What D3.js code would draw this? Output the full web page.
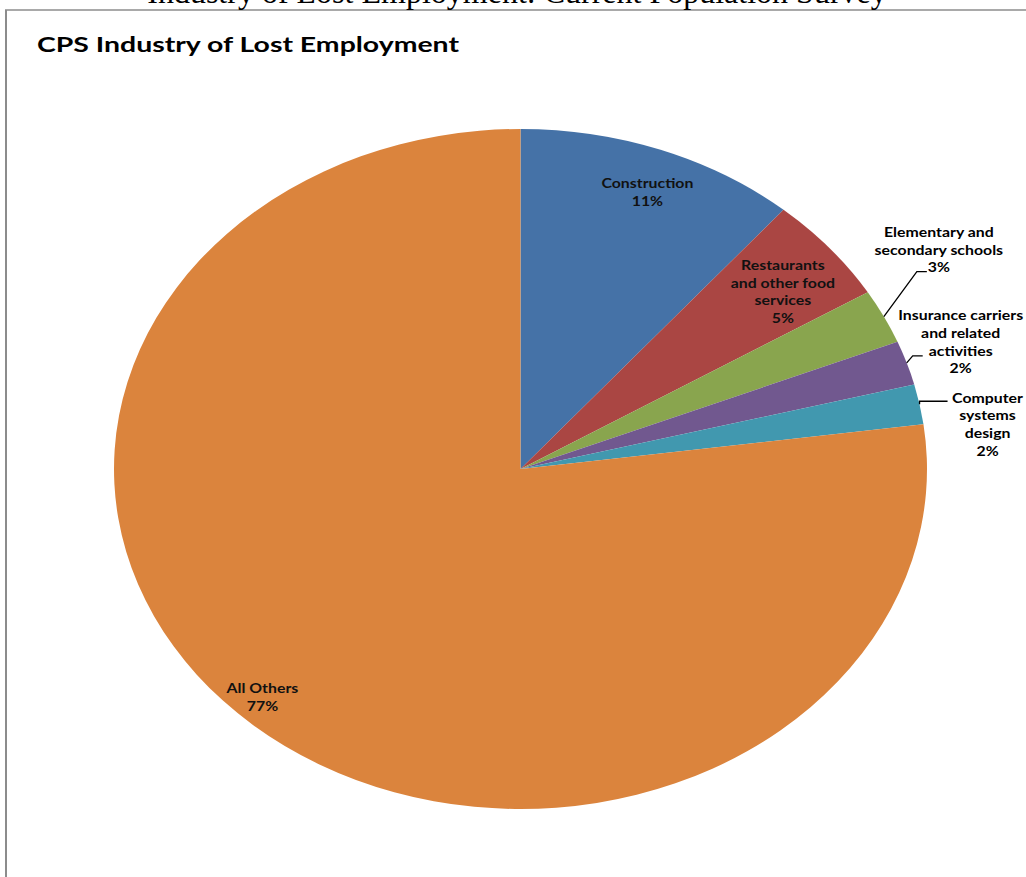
<!DOCTYPE html>
<html>
<head>
<meta charset="utf-8">
<script src="https://cdn.jsdelivr.net/npm/d3@7"></script>
<style>
  html, body { margin: 0; padding: 0; background: #fff; }
  svg { display: block; }
</style>
</head>
<body>
<svg id="chart" width="1026" height="877"></svg>
<script>
// ---- data ----
const categories = [
  "Construction",
  "Restaurants and other food services",
  "Elementary and secondary schools",
  "Insurance carriers and related activities",
  "Computer systems design",
  "All Others"
];
const values = [11.2, 5.1, 2.6, 2.1, 1.9, 77.1];
const labelLines = [
  ["Construction"],
  ["Restaurants", "and other food", "services"],
  ["Elementary and", "secondary schools"],
  ["Insurance carriers", "and related", "activities"],
  ["Computer", "systems", "design"],
  ["All Others"]
];
const colors = ["#4572A7", "#AA4643", "#89A54E", "#71588F", "#4198AF", "#DB843D"];
const pageTitle = "Industry of Lost Employment: Current Population Survey";
const chartTitle = "CPS Industry of Lost Employment";

// ---- layout ----
const svg = d3.select("#chart");
const cx = 520.5, cy = 469, rx = 406.5, ry = 340;
const sx = rx / ry;
const lineH = 17.6;
const textStretch = 1.22;

// frame
svg.append("line").attr("x1", 6).attr("y1", 10).attr("x2", 6).attr("y2", 877)
  .attr("stroke", "#8c8c8c").attr("stroke-width", 2);
svg.append("line").attr("x1", 5).attr("y1", 10).attr("x2", 1026).attr("y2", 10)
  .attr("stroke", "#8c8c8c").attr("stroke-width", 1.5);

svg.append("text").attr("x", 517).attr("y", 3).attr("text-anchor", "middle")
  .attr("font-family", "Liberation Serif, Times New Roman, serif").attr("font-size", 32)
  .attr("fill", "#000").text(pageTitle);

svg.append("text").attr("x", 37).attr("y", 52)
  .attr("font-family", "Lato, Open Sans, sans-serif").attr("font-weight", "bold").attr("font-size", 21)
  .attr("textLength", 422).attr("lengthAdjust", "spacingAndGlyphs")
  .attr("fill", "#000").text(chartTitle);

const total = d3.sum(values);
const data = categories.map((c, i) => ({ name: c, value: values[i], lines: labelLines[i], color: colors[i],
  pct: Math.round(values[i] / total * 100) + "%" }));

const pie = d3.pie().value(d => d.value).sort(null);
const arcs = pie(data);
const arc = d3.arc().innerRadius(0).outerRadius(ry);

const g = svg.append("g").attr("transform", `translate(${cx},${cy}) scale(${sx},1)`);
g.selectAll("path").data(arcs).enter().append("path")
  .attr("d", arc).attr("fill", d => d.data.color);

// helper: point at angle, radius fraction, in page coords
function pt(a, f) {
  return [cx + rx * f * Math.sin(a), cy - ry * f * Math.cos(a)];
}

const font = "Lato, Open Sans, sans-serif";
function drawLabel(x, yFirst, lines, color) {
  const t = svg.append("g").attr("transform", `translate(${x},${yFirst}) scale(${textStretch},1)`)
    .append("text").attr("text-anchor", "middle")
    .attr("font-family", font).attr("font-weight", "bold").attr("font-size", 13)
    .attr("fill", color || "#000");
  lines.forEach((l, i) => {
    t.append("tspan").attr("x", 0).attr("y", i * lineH).attr("dy", "0.35em").text(l);
  });
}

// inside labels: placed at the slice mid-angle (radius fraction + small nudge)
const inside = {
  "Construction": { frac: 0.87, nudge: [5, 1] },
  "Restaurants and other food services": { frac: 0.81, nudge: [12, 2] },
  "All Others": { frac: 0.90, nudge: [-17, -2] }
};
// outside labels: offsets from the slice edge point (elbow, end, label centre)
const outside = {
  "Elementary and secondary schools": { elbow: [33, -45], end: [43, -45], label: [55, -85] },
  "Insurance carriers and related activities": { elbow: [6, -7], end: [16, -7], label: [54, -48] },
  "Computer systems design": { elbow: [0, -3], end: [28, -3], label: [68, -7] }
};

arcs.forEach(a => {
  const mid = (a.startAngle + a.endAngle) / 2;
  const lines = a.data.lines.concat([a.data.pct]);
  if (inside[a.data.name] !== undefined) {
    const o = inside[a.data.name];
    const [x, y] = pt(mid, o.frac);
    drawLabel(x + o.nudge[0], y + o.nudge[1] - (lines.length - 1) * lineH / 2, lines, "#111");
  } else {
    const o = outside[a.data.name];
    const [ex, ey] = pt(mid, 1);
    svg.append("polyline")
      .attr("points", [[ex, ey], [ex + o.elbow[0], ey + o.elbow[1]], [ex + o.end[0], ey + o.end[1]]].map(p => p.join(",")).join(" "))
      .attr("fill", "none").attr("stroke", "#000").attr("stroke-width", 1.3);
    drawLabel(ex + o.label[0], ey + o.label[1] + 1, lines, "#000");
  }
});
</script>
</body>
</html>
